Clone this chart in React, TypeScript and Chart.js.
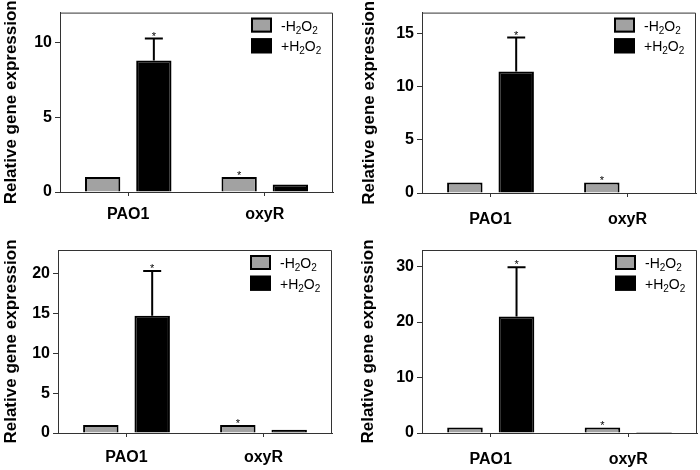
import React, { useEffect, useRef } from "react";
import { Chart, registerables } from "chart.js";

Chart.register(...registerables);

const FONT = '"Liberation Sans", Arial, Helvetica, sans-serif';

// ---- data ----
const categories = ["PAO1", "oxyR"];
const seriesLabels = ["-H2O2", "+H2O2"];
const yTitle = "Relative gene expression";

const panelA_minus = [1, 1];
const panelA_plus = [8.8, 0.5];
const panelA_plusErr = [1.46, 0.05];
const panelA_starMinus = [false, true];
const panelA_starPlus = [true, false];
const panelA_ticks = [0, 5, 10];
const panelA_max = 12;

const panelB_minus = [1, 1];
const panelB_plus = [11.45, 0];
const panelB_plusErr = [3.2, 0];
const panelB_starMinus = [false, true];
const panelB_starPlus = [true, false];
const panelB_ticks = [0, 5, 10, 15];
const panelB_max = 17;

const panelC_minus = [1, 1];
const panelC_plus = [14.75, 0.4];
const panelC_plusErr = [5.6, 0];
const panelC_starMinus = [false, true];
const panelC_starPlus = [true, false];
const panelC_ticks = [0, 5, 10, 15, 20];
const panelC_max = 23;

const panelD_minus = [1, 1];
const panelD_plus = [21, 0.2];
const panelD_plusErr = [8.9, 0];
const panelD_starMinus = [false, true];
const panelD_starPlus = [true, false];
const panelD_ticks = [0, 10, 20, 30];
const panelD_max = 33;

// ---- layout (positions/styles only) ----
const layouts = [
  { x: 0, y: 0, leftW: 60, bottomH: 43, top: 10, right: 17, titlePad: 1, xPad: 9 },
  { x: 350, y: 0, leftW: 72, bottomH: 42, top: 10, right: 4, titlePad: 9, xPad: 13 },
  { x: 0, y: 235, leftW: 58, bottomH: 37, top: 15, right: 18, titlePad: 1, xPad: 11 },
  { x: 350, y: 235, leftW: 72, bottomH: 37, top: 15, right: 3, titlePad: 8, xPad: 13 },
];

const panels = [
  { minus: panelA_minus, plus: panelA_plus, err: panelA_plusErr, sm: panelA_starMinus, sp: panelA_starPlus, ticks: panelA_ticks, max: panelA_max },
  { minus: panelB_minus, plus: panelB_plus, err: panelB_plusErr, sm: panelB_starMinus, sp: panelB_starPlus, ticks: panelB_ticks, max: panelB_max },
  { minus: panelC_minus, plus: panelC_plus, err: panelC_plusErr, sm: panelC_starMinus, sp: panelC_starPlus, ticks: panelC_ticks, max: panelC_max },
  { minus: panelD_minus, plus: panelD_plus, err: panelD_plusErr, sm: panelD_starMinus, sp: panelD_starPlus, ticks: panelD_ticks, max: panelD_max },
];

const GREY = "#a2a2a2";
const BLACK = "#000000";
const LINE = "#333333";

function drawChem(ctx: CanvasRenderingContext2D, text: string, x: number, baseline: number) {
  let cx = x;
  for (let i = 0; i < text.length; i++) {
    const ch = text[i];
    const isSub = /[0-9]/.test(ch) && i > 0 && /[A-Za-z]/.test(text[i - 1]);
    ctx.font = isSub ? `10px ${FONT}` : `14px ${FONT}`;
    ctx.textAlign = "left";
    ctx.textBaseline = "alphabetic";
    ctx.fillText(ch, cx, isSub ? baseline + 3 : baseline);
    cx += ctx.measureText(ch).width;
  }
}

const decorPlugin = {
  id: "decor",
  afterDatasetsDraw(chart: any) {
    const ctx: CanvasRenderingContext2D = chart.ctx;
    const { left, right, top, bottom } = chart.chartArea;
    const yScale = chart.scales.y;
    ctx.save();
    // frame (top + right)
    ctx.strokeStyle = LINE;
    ctx.lineWidth = 1;
    ctx.beginPath();
    ctx.moveTo(left, top + 0.5);
    ctx.lineTo(right - 0.5, top + 0.5);
    ctx.lineTo(right - 0.5, bottom);
    ctx.stroke();

    // error bars + stars
    chart.data.datasets.forEach((ds: any, di: number) => {
      const meta = chart.getDatasetMeta(di);
      meta.data.forEach((bar: any, i: number) => {
        const v = ds.data[i];
        const e = ds.errUp ? ds.errUp[i] : 0;
        const x = bar.x;
        let topY = yScale.getPixelForValue(v);
        if (e > 0.2) {
          const ey = yScale.getPixelForValue(v + e);
          ctx.strokeStyle = BLACK;
          ctx.lineWidth = 2;
          ctx.beginPath();
          ctx.moveTo(x, topY);
          ctx.lineTo(x, ey);
          ctx.moveTo(x - 9, ey);
          ctx.lineTo(x + 9, ey);
          ctx.stroke();
          topY = ey - 1;
        }
        if (ds.stars && ds.stars[i]) {
          ctx.fillStyle = BLACK;
          ctx.font = `11px ${FONT}`;
          ctx.textAlign = "center";
          ctx.textBaseline = "alphabetic";
          ctx.fillText("*", x, topY + 2);
        }
      });
    });

    // legend
    chart.data.datasets.forEach((ds: any, di: number) => {
      const bx = right - 82;
      const by = top + 5 + di * 20.7;
      const bw = 21;
      const bh = 15;
      ctx.fillStyle = ds.backgroundColor;
      ctx.fillRect(bx, by, bw, bh);
      ctx.strokeStyle = BLACK;
      ctx.lineWidth = 2;
      ctx.strokeRect(bx + 1, by + 1, bw - 2, bh - 2);
      ctx.fillStyle = BLACK;
      drawChem(ctx, ds.label, right - 52, by + bh / 2 + 5.5);
    });
    ctx.restore();
  },
};

function Panel({ idx }: { idx: number }) {
  const ref = useRef<HTMLCanvasElement | null>(null);
  useEffect(() => {
    const p = panels[idx];
    const L = layouts[idx];
    const chart = new Chart(ref.current as HTMLCanvasElement, {
      type: "bar",
      data: {
        labels: categories,
        datasets: [
          {
            label: seriesLabels[0],
            data: p.minus,
            backgroundColor: GREY,
            borderColor: BLACK,
            borderWidth: 2,
            categoryPercentage: 0.75,
            barPercentage: 0.69,
            stars: p.sm,
          } as any,
          {
            label: seriesLabels[1],
            data: p.plus,
            backgroundColor: BLACK,
            borderColor: BLACK,
            borderWidth: 2,
            categoryPercentage: 0.75,
            barPercentage: 0.69,
            errUp: p.err,
            stars: p.sp,
          } as any,
        ],
      },
      options: {
        responsive: false,
        animation: false,
        devicePixelRatio: 1,
        layout: { padding: { top: L.top, right: L.right, left: 0, bottom: 0 } },
        plugins: { legend: { display: false }, tooltip: { enabled: false } },
        scales: {
          x: {
            type: "category",
            offset: true,
            grid: { display: true, drawOnChartArea: false, offset: false, tickLength: 4, color: LINE, lineWidth: 1 },
            border: { display: true, color: LINE, width: 1 },
            ticks: { font: { family: FONT, size: 16, weight: "bold" }, color: BLACK, padding: L.xPad, maxRotation: 0 },
            afterFit: (a: any) => {
              a.height = L.bottomH;
            },
          },
          y: {
            type: "linear",
            min: 0,
            max: p.max,
            grid: { display: true, drawOnChartArea: false, tickLength: 5, color: LINE, lineWidth: 1 },
            border: { display: true, color: LINE, width: 1 },
            ticks: { font: { family: FONT, size: 16, weight: "bold" }, color: BLACK, padding: 3 },
            afterBuildTicks: (a: any) => {
              a.ticks = p.ticks.map((v) => ({ value: v }));
            },
            afterFit: (a: any) => {
              a.width = L.leftW;
            },
            title: {
              display: true,
              text: yTitle,
              color: BLACK,
              font: { family: FONT, size: 17, weight: "bold" },
              padding: { top: L.titlePad, bottom: 0 },
            },
          },
        },
      } as any,
      plugins: [decorPlugin as any],
    });
    return () => chart.destroy();
  }, [idx]);
  const L = layouts[idx];
  return (
    <div style={{ position: "absolute", left: L.x, top: L.y, width: 350, height: 235 }}>
      <canvas ref={ref} width={350} height={235} style={{ width: 350, height: 235, display: "block" }} />
    </div>
  );
}

export default function App() {
  return (
    <div style={{ position: "fixed", left: 0, top: 0, width: 700, height: 470, background: "#fff", overflow: "hidden" }}>
      {[0, 1, 2, 3].map((i) => (
        <Panel key={i} idx={i} />
      ))}
    </div>
  );
}
